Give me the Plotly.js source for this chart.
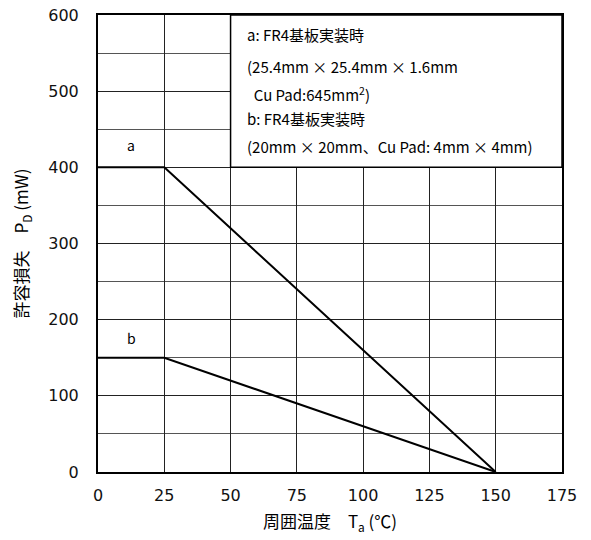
<!DOCTYPE html>
<html><head><meta charset="utf-8">
<script src="https://cdn.plot.ly/plotly-3.0.1.min.js"></script>
<style>html,body{margin:0;padding:0;background:#fff}</style>
</head><body>
<div id="chart" style="width:591px;height:540px"></div>
<script>
const curveA_x = [0, 25, 150];
const curveA_y = [400, 400, 0];
const curveB_x = [0, 25, 150];
const curveB_y = [150, 150, 0];
const xTicks = [0, 25, 50, 75, 100, 125, 150, 175];
const yTicks = [0, 100, 200, 300, 400, 500, 600];
const legendLines = [
  "a: FR4基板実装時",
  "(25.4mm × 25.4mm × 1.6mm",
  "  Cu Pad:645mm<sup>2</sup>)",
  "b: FR4基板実装時",
  "(20mm × 20mm、Cu Pad: 4mm × 4mm)"
];
const legendY = [574, 532, 496, 464, 427];
const curveLabels = ["a", "b"];
const curveLabelY = [429, 176];

const lineStyle = {color: '#000', width: 2};
const traces = [
  {x: curveA_x, y: curveA_y, mode: 'lines', line: lineStyle, hoverinfo: 'skip', cliponaxis: false},
  {x: curveB_x, y: curveB_y, mode: 'lines', line: lineStyle, hoverinfo: 'skip', cliponaxis: false}
];

const annotations = [];
legendLines.forEach((t, i) => annotations.push({
  x: 55.3, y: legendY[i], xref: 'x', yref: 'y', text: t.replace(/^  /, '&nbsp;&nbsp;'),
  showarrow: false, xanchor: 'left', yanchor: 'middle',
  font: {family: 'Noto Sans CJK JP, sans-serif', size: 15, color: '#000'}
}));
curveLabels.forEach((t, i) => annotations.push({
  x: 12.5, y: curveLabelY[i], xref: 'x', yref: 'y', text: t, showarrow: false,
  xanchor: 'center', yanchor: 'middle',
  font: {family: 'Noto Sans CJK JP, sans-serif', size: 14, color: '#000'}
}));

const layout = {
  width: 591, height: 540,
  margin: {l: 98, r: 29, t: 15, b: 68},
  paper_bgcolor: '#fff', plot_bgcolor: '#fff',
  showlegend: false,
  xaxis: {
    range: [0, 175], tickvals: xTicks, ticktext: xTicks.map(String),
    showgrid: true, gridcolor: '#222', gridwidth: 1,
    zeroline: false, showline: true, linecolor: '#000', linewidth: 2, mirror: true,
    ticks: '', ticklabelstandoff: 8,
    tickfont: {family: 'DejaVu Sans, sans-serif', size: 16, color: '#111'},
    title: {text: '周囲温度　T<sub>a</sub> (℃)', standoff: 12,
      font: {family: 'Noto Sans CJK JP, sans-serif', size: 17, color: '#000'}}
  },
  yaxis: {
    range: [0, 600], tickvals: yTicks, ticktext: yTicks.map(String),
    showgrid: true, gridcolor: '#222', gridwidth: 1,
    minor: {dtick: 50, showgrid: true, gridcolor: '#555', gridwidth: 1},
    zeroline: false, showline: true, linecolor: '#000', linewidth: 2, mirror: true,
    ticks: '', ticklabelstandoff: 14,
    tickfont: {family: 'DejaVu Sans, sans-serif', size: 16, color: '#111'},
    title: {text: '許容損失　P<sub>D</sub> (mW)', standoff: 15,
      font: {family: 'Noto Sans CJK JP, sans-serif', size: 17, color: '#000'}}
  },
  shapes: [{
    type: 'rect', xref: 'x', yref: 'y', x0: 50, x1: 175, y0: 400, y1: 600,
    fillcolor: '#fff', line: {color: '#000', width: 1.5}, layer: 'above'
  }],
  annotations: annotations
};
Plotly.newPlot('chart', traces, layout, {staticPlot: true, displayModeBar: false});
</script>
</body></html>
